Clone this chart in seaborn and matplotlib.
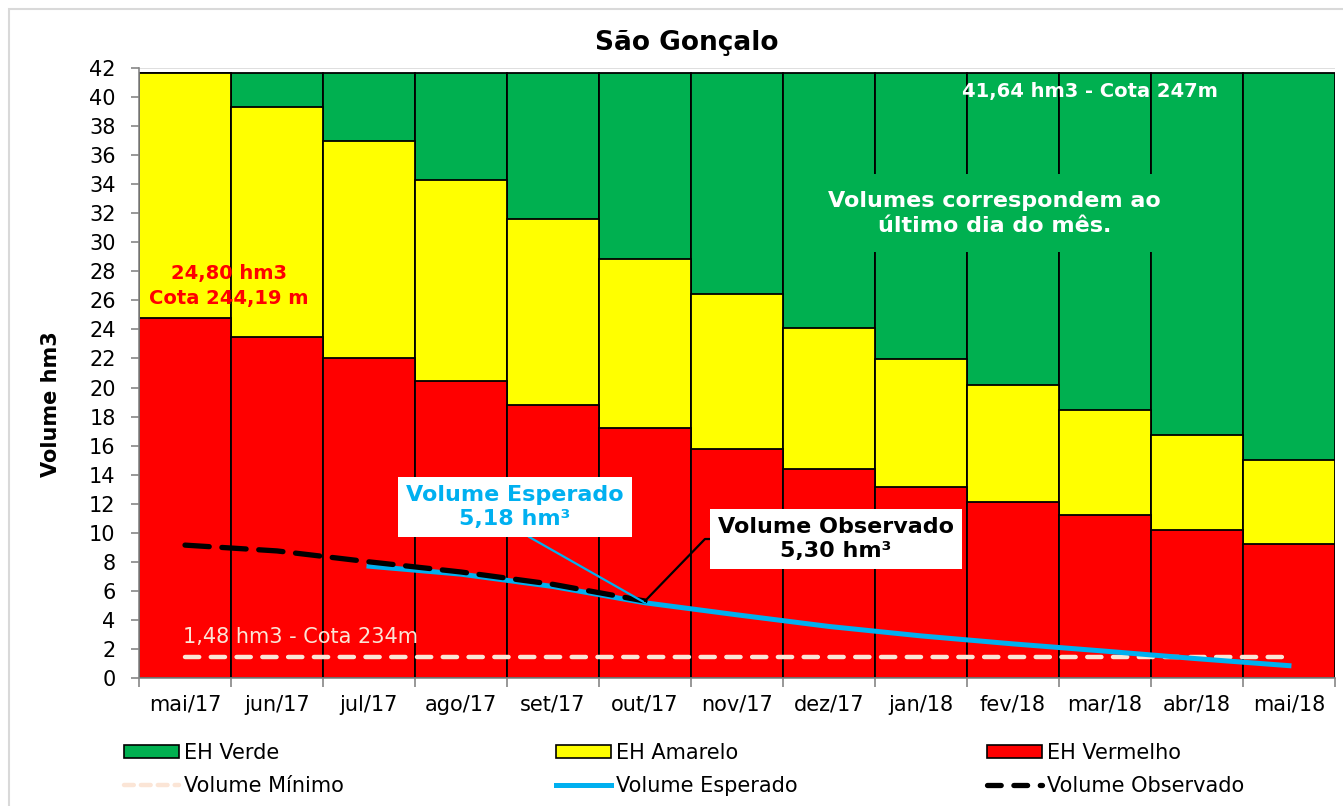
import numpy as np
import pandas as pd
import seaborn as sns
import matplotlib
matplotlib.use('Agg')
import matplotlib.pyplot as plt
from matplotlib.patches import Patch, Rectangle
from matplotlib.lines import Line2D

# dados
meses = ['mai/17', 'jun/17', 'jul/17', 'ago/17', 'set/17', 'out/17', 'nov/17',
         'dez/17', 'jan/18', 'fev/18', 'mar/18', 'abr/18', 'mai/18']
volume_maximo = [41.64] * len(meses)
topo_amarelo = [41.64, 39.3, 36.95, 34.3, 31.6, 28.85, 26.45, 24.1, 21.95, 20.15, 18.45, 16.75, 15.0]
topo_vermelho = [24.80, 23.5, 22.05, 20.45, 18.8, 17.2, 15.8, 14.4, 13.15, 12.15, 11.2, 10.2, 9.25]
volume_observado = [9.15, 8.75, 8.0, 7.3, 6.45, 5.30]
meses_esperado = meses[2:]
volume_esperado = [7.7, 7.15, 6.3, 5.18, 4.35, 3.55, 2.9, 2.35, 1.85, 1.33, 0.85]
volume_minimo = [1.48] * len(meses)

VERDE = '#00B050'
AMARELO = '#FFFF00'
VERMELHO = '#FF0000'
AZUL = '#00B0F0'
CREME = '#FBE5D6'

df = pd.DataFrame({'mes': meses, 'verde': volume_maximo,
                   'amarelo': topo_amarelo, 'vermelho': topo_vermelho})

fig = plt.figure(figsize=(13.43, 8.06), dpi=100)
ax = fig.add_axes([0.1035, 0.1588, 0.8905, 0.7568])

for col, cor in [('verde', VERDE), ('amarelo', AMARELO), ('vermelho', VERMELHO)]:
    sns.barplot(data=df, x='mes', y=col, color=cor, saturation=1, width=1,
                edgecolor='black', linewidth=1.3, ax=ax, zorder=2)

pos = {m: i for i, m in enumerate(meses)}
sns.lineplot(x=np.arange(len(meses)), y=volume_minimo, color=CREME, lw=3.2,
             linestyle=(0, (3.2, 2.6)), dash_capstyle='round', ax=ax, zorder=3)
sns.lineplot(x=[pos[m] for m in meses_esperado], y=volume_esperado, color=AZUL,
             lw=3.6, ax=ax, zorder=4)
sns.lineplot(x=np.arange(len(volume_observado)), y=volume_observado, color='black',
             lw=3.8, linestyle=(0, (4.6, 2.4)), dash_capstyle='round', ax=ax, zorder=5)

ax.set_xlim(-0.5, len(meses) - 0.5)
ax.set_ylim(0, 42)
ax.set_yticks(np.arange(0, 43, 2))
ax.set_xticks(np.arange(len(meses)))
ax.set_xticklabels(meses)
ax.set_xticks(np.arange(-0.5, len(meses), 1), minor=True)
ax.set_xlabel('')
ax.set_ylabel('')
ax.grid(axis='y', color='#D9D9D9', lw=1.2, zorder=0)
ax.set_axisbelow(True)
ax.tick_params(axis='x', which='major', length=0, pad=12, labelsize=15)
ax.tick_params(axis='x', which='minor', length=6.5, color='#868686', width=1.2)
ax.tick_params(axis='y', length=5.8, color='#868686', width=1.2, pad=11, labelsize=15)
for s in ['top', 'right']:
    ax.spines[s].set_visible(False)
for s in ['left', 'bottom']:
    ax.spines[s].set_color('#868686')
    ax.spines[s].set_linewidth(1.2)

# textos
ax.text(0.478, 27.0, '24,80 hm3\nCota 244,19 m', color=VERMELHO, fontsize=14,
        fontweight='bold', ha='center', va='center', linespacing=1.35, zorder=6)
ax.text(9.84, 40.35, '41,64 hm3 - Cota 247m', color='white', fontsize=14,
        fontweight='bold', ha='center', va='center', zorder=6)
ax.text(8.80, 32.0, 'Volumes correspondem ao\núltimo dia do mês.', color='white',
        fontsize=16, fontweight='bold', ha='center', va='center', linespacing=1.3,
        bbox=dict(boxstyle='square,pad=0.75', fc=VERDE, ec='none'), zorder=6)
ax.text(-0.02, 2.82, '1,48 hm3 - Cota 234m', color=CREME, fontsize=15,
        ha='left', va='center', zorder=6)

ax.annotate('Volume Esperado\n5,18 hm³', xy=(pos['out/17'], 5.18), xytext=(3.587, 11.78),
            textcoords='data', color=AZUL, fontsize=16, fontweight='bold',
            ha='center', va='center', linespacing=1.25,
            bbox=dict(boxstyle='square,pad=0.35', fc='white', ec='none'),
            arrowprops=dict(arrowstyle='-', color=AZUL, lw=1.6, relpos=(0.5, 0),
                            shrinkA=0, shrinkB=0), zorder=7)
ax.annotate('Volume Observado\n5,30 hm³', xy=(pos['out/17'], 5.30), xytext=(7.076, 9.57),
            textcoords='data', color='black', fontsize=16, fontweight='bold',
            ha='center', va='center', linespacing=1.25,
            bbox=dict(boxstyle='square,pad=0.35', fc='white', ec='none'),
            arrowprops=dict(arrowstyle='-', color='black', lw=1.6, relpos=(0, 0.5),
                            connectionstyle='arc,angleA=180,armA=13,angleB=0,armB=0,rad=0',
                            shrinkA=0, shrinkB=0), zorder=7)

fig.text(687 / 1343, 1 - 43 / 806, 'São Gonçalo', fontsize=19, fontweight='bold',
         ha='center', va='center')
fig.text(51 / 1343, 1 - 404 / 806, 'Volume hm3', fontsize=15, fontweight='bold',
         rotation=90, ha='center', va='center')

# moldura externa
fig.patches.append(Rectangle((9 / 1343, -0.05), 1.1, 1.05 - 9 / 806,
                             transform=fig.transFigure, fill=False, ec='#D9D9D9', lw=1.5))

# legendas
grupos = [
    ([Patch(fc=VERDE, ec='black', lw=1.2),
      Line2D([], [], color=CREME, lw=3.2, linestyle=(0, (2.2, 1.6)), dash_capstyle='round')],
     ['EH Verde', 'Volume Mínimo'], 124),
    ([Patch(fc=AMARELO, ec='black', lw=1.2), Line2D([], [], color=AZUL, lw=3.6)],
     ['EH Amarelo', 'Volume Esperado'], 556),
    ([Patch(fc=VERMELHO, ec='black', lw=1.2),
      Line2D([], [], color='black', lw=3.8, linestyle=(0, (2.6, 2.4)), dash_capstyle='round')],
     ['EH Vermelho', 'Volume Observado'], 987),
]
for handles, labels, x0 in grupos:
    fig.legend(handles, labels, loc='upper left', bbox_to_anchor=(x0 / 1343, 1 - 743 / 806),
               frameon=False, fontsize=15, handlelength=2.65, handleheight=0.63,
               handletextpad=0.25, labelspacing=0.62, borderpad=0, borderaxespad=0)

fig.savefig('out.png', dpi=100)
